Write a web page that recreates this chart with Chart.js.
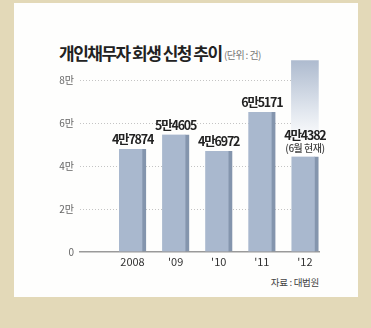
<!DOCTYPE html>
<html>
<head>
<meta charset="utf-8">
<script src="https://cdn.jsdelivr.net/npm/chart.js@4/dist/chart.umd.min.js"></script>
<style>
  html, body { margin: 0; padding: 0; }
  body { width: 371px; height: 328px; background: #e3d9b8; position: relative; overflow: hidden; font-family: "Noto Sans CJK KR", sans-serif; }
  #panel { position: absolute; left: 14px; top: 3px; width: 344px; height: 294px; background: #fefefd; }
  #title { position: absolute; left: 59px; top: 40px; white-space: nowrap; font-size: 17px; font-weight: 700; color: #222; letter-spacing: -1.5px; }
  #unit { position: absolute; left: 224px; top: 47px; white-space: nowrap; font-size: 10px; color: #777; letter-spacing: -0.6px; }
  #source { position: absolute; right: 52px; top: 275px; font-size: 9.5px; color: #444; letter-spacing: -0.3px; }
  canvas { position: absolute; left: 0; top: 0; }
</style>
</head>
<body>
<div id="panel"></div>
<div id="title">개인채무자 회생 신청 추이</div>
<div id="unit">(단위 : 건)</div>
<div id="source">자료 : 대법원</div>
<canvas id="chart" width="371" height="328"></canvas>
<script>
// chart data
const years = ['2008', "'09", "'10", "'11", "'12"]
const applications = [47874, 54605, 46972, 65171, 44382]
const valueLabels = ['4만7874', '5만4605', '4만6972', '6만5171', '4만4382']
const noteLabels = ['', '', '', '', '(6월 현재)']
// faded extension on top of the 2012 bar (rest of the year)
const projected = [null, null, null, null, 44600]
const tickValues = [0, 20000, 40000, 60000, 80000]
const tickLabels = ['0', '2만', '4만', '6만', '8만']

// draw the value labels above each bar
const valueLabelPlugin = {
  id: 'valueLabels',
  afterDatasetsDraw(chart) {
    const ctx = chart.ctx
    const bars = chart.getDatasetMeta(0).data
    ctx.save()
    ctx.textAlign = 'center'
    ctx.textBaseline = 'alphabetic'
    bars.forEach((bar, i) => {
      let y = bar.y - 5
      if (noteLabels[i]) {
        ctx.font = '500 10px "Noto Sans CJK KR"'
        ctx.fillStyle = '#444'
        ctx.letterSpacing = '-0.5px'
        ctx.fillText(noteLabels[i], bar.x, y)
        y -= 12
      }
      ctx.font = '700 12.5px "Noto Sans CJK KR"'
      ctx.fillStyle = '#222'
      ctx.letterSpacing = '-1.2px'
      ctx.fillText(valueLabels[i], bar.x, y)
    })
    ctx.restore()
  }
}

const ctx = document.getElementById('chart').getContext('2d')
const chart = new Chart(ctx, {
  type: 'bar',
  data: {
    datasets: [
      {
        data: applications.map((v, i) => ({ x: i, y: v })),
        backgroundColor: '#a9b8ce',
        borderColor: '#8495ad',
        borderWidth: { right: 4, left: 0, top: 0, bottom: 0 },
        borderSkipped: false,
        barThickness: 27
      },
      {
        data: projected.map((v, i) => ({ x: i, y: v })),
        backgroundColor: (c) => {
          const area = c.chart.chartArea
          if (!area) return '#dde3ec'
          const yScale = c.chart.scales.y
          const g = c.chart.ctx.createLinearGradient(0, yScale.getPixelForValue(applications[4] + projected[4]), 0, yScale.getPixelForValue(applications[4]))
          g.addColorStop(0, '#aebbcf')
          g.addColorStop(0.55, '#e4e9f0')
          g.addColorStop(0.85, '#ffffff')
          g.addColorStop(1, '#ffffff')
          return g
        },
        borderWidth: 0,
        barThickness: 27
      }
    ]
  },
  options: {
    responsive: false,
    devicePixelRatio: 1,
    animation: false,
    layout: { padding: { left: 0, right: 52, top: 58.5, bottom: 0 } },
    plugins: { legend: { display: false }, tooltip: { enabled: false } },
    scales: {
      x: {
        type: 'linear',
        offset: false,
        stacked: true,
        min: -1.218,
        max: 4.327,
        afterBuildTicks: (scale) => { scale.ticks = years.map((_, i) => ({ value: i })) },
        afterFit: (scale) => { scale.height = 76 },
        ticks: {
          callback: (v) => years[v],
          color: '#333',
          font: { family: 'Noto Sans CJK KR', size: 11 },
          padding: 3,
          maxRotation: 0,
          autoSkip: false
        },
        grid: { display: false, drawTicks: false },
        border: { display: true, color: '#9a9a9a', width: 1.5 }
      },
      y: {
        stacked: true,
        min: 0,
        max: 90000,
        afterBuildTicks: (scale) => { scale.ticks = tickValues.map(v => ({ value: v })) },
        afterFit: (scale) => { scale.width = 80 },
        ticks: {
          callback: (v) => tickLabels[tickValues.indexOf(v)],
          color: '#666',
          font: { family: 'Noto Sans CJK KR', size: 10 },
          padding: 6
        },
        grid: {
          drawTicks: false,
          color: (c) => c.tick && c.tick.value === 0 ? 'rgba(0,0,0,0)' : '#c4c4c4',
          lineWidth: 1
        },
        border: { display: false, dash: [1, 2] }
      }
    }
  },
  plugins: [valueLabelPlugin]
})
</script>
</body>
</html>
